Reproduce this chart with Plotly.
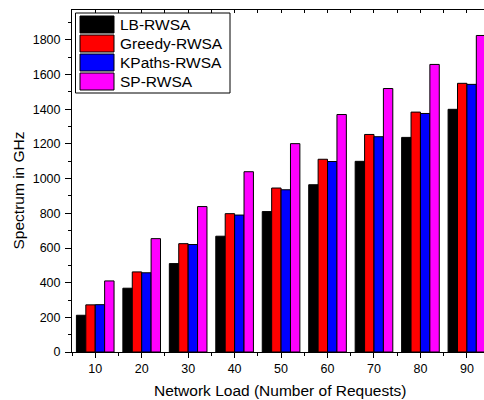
import plotly.graph_objects as go

loads = [10, 20, 30, 40, 50, 60, 70, 80, 90]
series_names = ["LB-RWSA", "Greedy-RWSA", "KPaths-RWSA", "SP-RWSA"]
lb = [212, 368, 510, 668, 810, 965, 1100, 1238, 1400]
greedy = [272, 462, 625, 798, 946, 1112, 1255, 1384, 1550]
kpaths = [273, 457, 620, 790, 936, 1099, 1242, 1376, 1544]
sp = [410, 654, 839, 1040, 1202, 1370, 1520, 1659, 1826]
colors = ["#000000", "#FF0000", "#0000FF", "#FF00FF"]

W, H = 484, 400
L, R, T, B = 72, 0, 10, 48
PW, PH = W - L - R, H - T - B
FONT = "Arial, Liberation Sans, sans-serif"


def px2x(px):
    return (px - L) / PW


def px2y(py):
    return (H - B - py) / PH


fig = go.Figure()
for name, vals, c in zip(series_names, [lb, greedy, kpaths, sp], colors):
    fig.add_trace(go.Bar(x=loads, y=vals, name=name, marker=dict(color=c, line=dict(color="#000000", width=1)),
                         showlegend=False))

# dummy trace to enable top axis with inward ticks
fig.add_trace(go.Scatter(x=[None], y=[None], xaxis="x2", showlegend=False, hoverinfo="skip"))

xr = [5, 5 + PW / 4.646]
fig.update_layout(
    width=W, height=H,
    margin=dict(l=L, r=R, t=T, b=B),
    paper_bgcolor="white", plot_bgcolor="white",
    barmode="group", bargap=0.19, bargroupgap=0,
    font=dict(family=FONT, size=12, color="#000000"),
    xaxis=dict(range=xr, tickvals=loads, ticks="outside", ticklen=5, tickwidth=1, tickcolor="#000",
               minor=dict(dtick=5, tick0=5, ticks="outside", ticklen=3, tickcolor="#000"),
               showline=True, linecolor="#000", linewidth=1, showgrid=False, zeroline=False,
               tickfont=dict(size=12.5)),
    xaxis2=dict(range=xr, overlaying="x", side="top", anchor="y", dtick=5, tick0=5, ticks="inside",
                ticklen=3, tickcolor="#000", showticklabels=False, showline=True, linecolor="#000",
                linewidth=1, showgrid=False, zeroline=False),
    yaxis=dict(range=[0, 1973], dtick=200, ticks="outside", ticklen=6, tickwidth=1, tickcolor="#000",
               minor=dict(dtick=100, ticks="outside", ticklen=3, tickcolor="#000"),
               showline=True, linecolor="#000", linewidth=1, showgrid=False, zeroline=False,
               tickfont=dict(size=12.5), ticklabelstandoff=2),
)

ann = [
    dict(text="Network Load (Number of Requests)", x=px2x(280), y=px2y(390), xref="paper", yref="paper",
         showarrow=False, xanchor="center", yanchor="middle", font=dict(size=15.5)),
    dict(text="Spectrum in GHz", x=px2x(18.5), y=px2y(191), xref="paper", yref="paper", textangle=-90,
         showarrow=False, xanchor="center", yanchor="middle", font=dict(size=15.5)),
]
shapes = [dict(type="rect", xref="paper", yref="paper", x0=px2x(75.5), x1=px2x(230), y0=px2y(13), y1=px2y(93),
               line=dict(color="#000", width=1), fillcolor="white", layer="above")]
row_tops = [16, 35, 54, 73]
for name, c, top in zip(series_names, colors, row_tops):
    shapes.append(dict(type="rect", xref="paper", yref="paper", x0=px2x(80), x1=px2x(114),
                       y0=px2y(top), y1=px2y(top + 17), line=dict(color="#000", width=1), fillcolor=c,
                       layer="above"))
    ann.append(dict(text=name, x=px2x(118), y=px2y(top + 8.5), xref="paper", yref="paper", showarrow=False,
                    xanchor="left", yanchor="middle", font=dict(size=15.5)))
fig.update_layout(annotations=ann, shapes=shapes)

fig.write_html("out.html", config={"displayModeBar": False},
               post_script="document.body.style.margin='0';document.body.style.padding='0';"
                           "document.documentElement.style.overflow='hidden';")
